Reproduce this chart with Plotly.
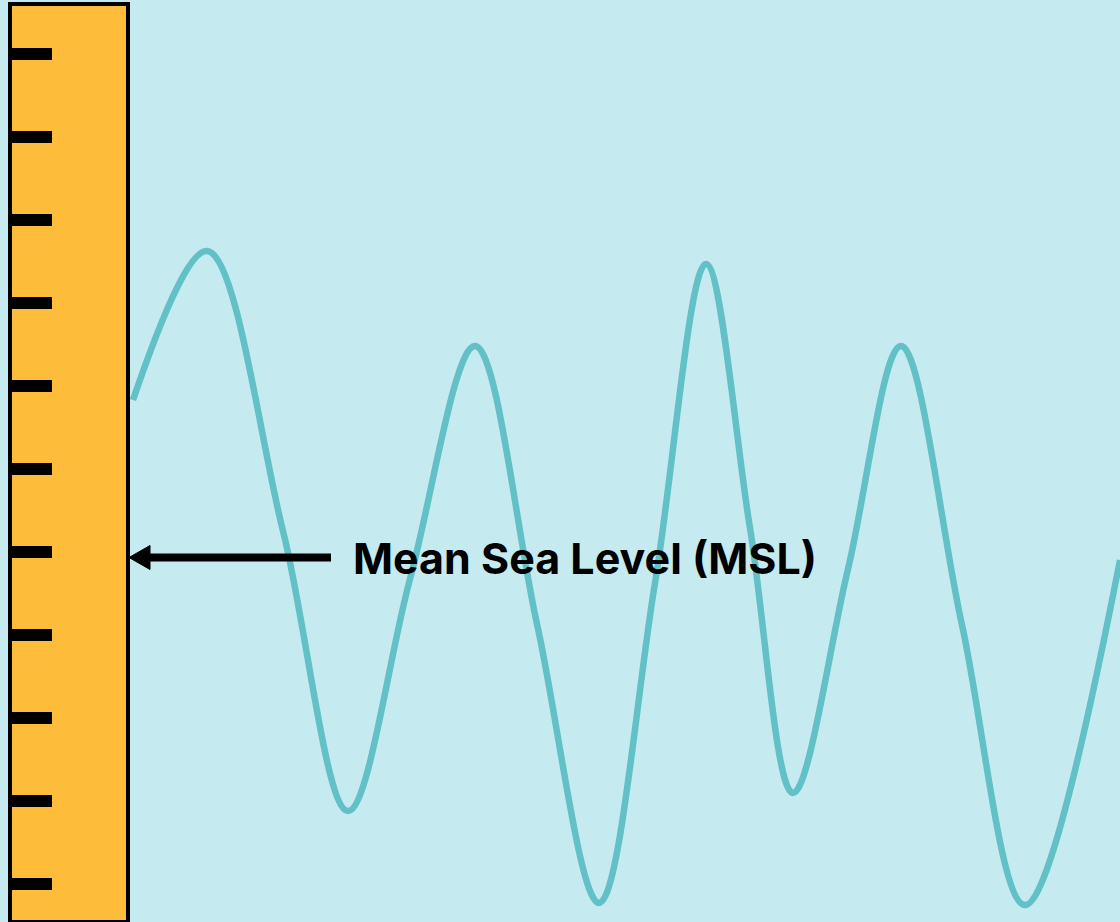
import plotly.graph_objects as go

# Water-level trace (x = time in px, y = level in px, screen coordinates):
# crests, troughs and the half-height point of each rise / fall
wave_x = [133, 207, 283, 348, 410, 475, 537, 599, 655, 706, 750, 793, 848, 901, 962, 1025, 1120]
wave_y = [400, 251, 531, 811, 579, 346, 624, 903, 583, 264, 528, 793, 569, 346, 625, 905, 560]

# Ruler tick positions (px)
tick_y = [54, 137, 220, 303, 386, 469, 552, 635, 718, 801, 884]

label_text = "Mean Sea Level (MSL)"
msl_y = 557.5

BG = "#C5EAEF"
RULER = "#FDBD3A"
WAVE = "#62C1C6"

fig = go.Figure()
fig.add_trace(go.Scatter(
    x=wave_x, y=wave_y, mode="lines",
    line=dict(color=WAVE, width=6.5, shape="spline", smoothing=1.0),
    hoverinfo="skip", showlegend=False,
))

shapes = []
# ruler body
shapes.append(dict(type="rect", xref="x", yref="y", x0=10, x1=128, y0=4, y1=922,
                   fillcolor=RULER, line=dict(color="black", width=4), layer="above"))
for ty in tick_y:
    shapes.append(dict(type="rect", xref="x", yref="y", x0=12, x1=52, y0=ty - 6, y1=ty + 6,
                       fillcolor="black", line=dict(width=0), layer="above"))
# arrow shaft
shapes.append(dict(type="line", xref="x", yref="y", x0=331, x1=145, y0=msl_y, y1=msl_y,
                   line=dict(color="black", width=8), layer="above"))
# arrow head
shapes.append(dict(type="path", xref="x", yref="y",
                   path=f"M 129 {msl_y} L 150 {msl_y-12} L 150 {msl_y+12} Z",
                   fillcolor="black", line=dict(color="black", width=1), layer="above"))

fig.update_layout(
    width=1120, height=922,
    margin=dict(l=0, r=0, t=0, b=0),
    paper_bgcolor=BG, plot_bgcolor=BG,
    xaxis=dict(range=[0, 1120], visible=False, fixedrange=True),
    yaxis=dict(range=[922, 0], visible=False, fixedrange=True),
    shapes=shapes,
    annotations=[dict(x=351, y=msl_y, xref="x", yref="y", text=f"<b>{label_text}</b>",
                      showarrow=False, xanchor="left", yanchor="middle",
                      font=dict(family="Inter", size=43, color="black"))],
    showlegend=False,
)

fig.write_html("out.html", config={"displayModeBar": False},
               post_script="document.body.style.margin='0';document.body.style.overflow='hidden';")
